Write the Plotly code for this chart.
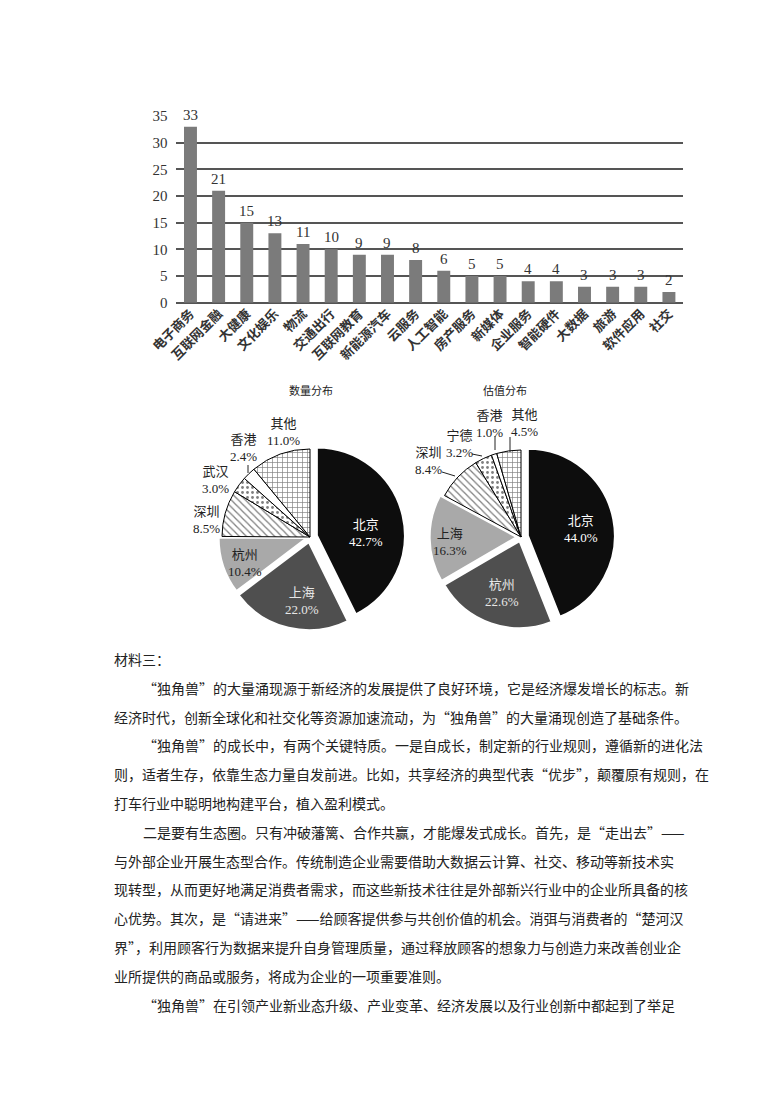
import plotly.graph_objects as go

W, H = 780, 1103

# ---------------- data ----------------
industries = ["电子商务", "互联网金融", "大健康", "文化娱乐", "物流", "交通出行", "互联网教育",
              "新能源汽车", "云服务", "人工智能", "房产服务", "新媒体", "企业服务", "智能硬件",
              "大数据", "旅游", "软件应用", "社交"]
counts = [33, 21, 15, 13, 11, 10, 9, 9, 8, 6, 5, 5, 4, 4, 3, 3, 3, 2]
y_ticks = [0, 5, 10, 15, 20, 25, 30, 35]

qty_title = "数量分布"
qty_cities = ["北京", "上海", "杭州", "深圳", "武汉", "香港", "其他"]
qty_share = [42.7, 22.0, 10.4, 8.5, 3.0, 2.4, 11.0]

val_title = "估值分布"
val_cities = ["北京", "杭州", "上海", "深圳", "宁德", "香港", "其他"]
val_share = [44.0, 22.6, 16.3, 8.4, 3.2, 1.0, 4.5]

body_lines = [
    "材料三：",
    "“独角兽”的大量涌现源于新经济的发展提供了良好环境，它是经济爆发增长的标志。新",
    "经济时代，创新全球化和社交化等资源加速流动，为“独角兽”的大量涌现创造了基础条件。",
    "“独角兽”的成长中，有两个关键特质。一是自成长，制定新的行业规则，遵循新的进化法",
    "则，适者生存，依靠生态力量自发前进。比如，共享经济的典型代表“优步”，颠覆原有规则，在",
    "打车行业中聪明地构建平台，植入盈利模式。",
    "二是要有生态圈。只有冲破藩篱、合作共赢，才能爆发式成长。首先，是“走出去”——",
    "与外部企业开展生态型合作。传统制造企业需要借助大数据云计算、社交、移动等新技术实",
    "现转型，从而更好地满足消费者需求，而这些新技术往往是外部新兴行业中的企业所具备的核",
    "心优势。其次，是“请进来”——给顾客提供参与共创价值的机会。消弭与消费者的“楚河汉",
    "界”，利用顾客行为数据来提升自身管理质量，通过释放顾客的想象力与创造力来改善创业企",
    "业所提供的商品或服务，将成为企业的一项重要准则。",
    "“独角兽”在引领产业新业态升级、产业变革、经济发展以及行业创新中都起到了举足",
]
body_indent = [False, True, False, True, False, False, True, False, False, False, False, False, True]

# ---------------- helpers (pixel -> paper) ----------------
def px(x):
    return x / W

def py(y):
    return 1 - y / H

SERIF = "Liberation Serif, Noto Sans CJK SC"
CJK = "Noto Sans CJK SC"

fig = go.Figure()

# ---------------- bar chart ----------------
fig.add_trace(go.Bar(
    x=industries, y=counts,
    marker=dict(color="#7b7b7b", line=dict(width=0)),
    hoverinfo="skip", showlegend=False,
))

annotations = []
for cat, v in zip(industries, counts):
    annotations.append(dict(text=str(v), x=cat, y=v, xref="x", yref="y",
                            xanchor="center", yanchor="bottom", yshift=2,
                            showarrow=False,
                            font=dict(family=SERIF, size=15, color="#333")))

# ---------------- pies ----------------
def pie_domain(cx, cy, r, pull):
    half = r * (1 + pull)
    return dict(x=[px(cx - half), px(cx + half)], y=[py(cy + half), py(cy - half)])

left_c = (310, 537); left_r = 88; left_pull = [0.08, 0.06, 0.04, 0, 0, 0, 0]
right_c = (521, 537); right_r = 87; right_pull = [0.08, 0.05, 0.05, 0, 0, 0, 0]

pie_marker = dict(
    colors=["#0d0d0d", "#4f4f4f", "#a9a9a9", "white", "white", "white", "white"],
    line=dict(color=["white", "white", "white", "black", "black", "black", "black"],
              width=[2, 2, 2, 1, 1, 1, 1]),
    pattern=dict(shape=["", "", "", "\\", ".", "", "+"], fillmode="overlay",
                 fgcolor="black", size=5, solidity=0.25),
)

fig.add_trace(go.Pie(
    labels=qty_cities, values=qty_share, sort=False, direction="clockwise", rotation=0,
    domain=pie_domain(*left_c, left_r, max(left_pull)), pull=left_pull,
    marker=pie_marker, textinfo="none", hoverinfo="skip", showlegend=False,
))

fig.add_trace(go.Pie(
    labels=val_cities, values=val_share, sort=False, direction="clockwise", rotation=0,
    domain=pie_domain(*right_c, right_r, max(right_pull)), pull=right_pull,
    marker=pie_marker, textinfo="none", hoverinfo="skip", showlegend=False,
))

# pie titles
for t, x in [(qty_title, 311), (val_title, 505)]:
    annotations.append(dict(text=t, x=px(x), y=py(390), xref="paper", yref="paper",
                            xanchor="center", yanchor="middle", showarrow=False,
                            font=dict(family=CJK, size=11, color="#222")))

# pie slice labels (positions in pixels)
left_pos = [(366, 533), (302, 601), (245, 563), (206, 520), (215, 480), (243, 448), (283, 432)]
left_col = ["white", "#e6e6e6", "#222", "#222", "#222", "#222", "#222"]
right_pos = [(581, 529), (502, 593), (450, 542), (428, 461), (459, 444), (489, 424), (524, 423)]
right_col = ["white", "#e6e6e6", "#222", "#222", "#222", "#222", "#222"]

for names, vals, pos, cols in [(qty_cities, qty_share, left_pos, left_col),
                               (val_cities, val_share, right_pos, right_col)]:
    for n, v, (x, y), c in zip(names, vals, pos, cols):
        annotations.append(dict(text=f"{n}<br>{v:.1f}%", x=px(x), y=py(y),
                                xref="paper", yref="paper", xanchor="center",
                                yanchor="middle", align="center", showarrow=False,
                                font=dict(family=SERIF, size=13, color=c)))

# body text
line_y0, line_step = 659, 28.8
for i, (t, ind) in enumerate(zip(body_lines, body_indent)):
    annotations.append(dict(text=t, x=px(141 if ind else 112), y=py(line_y0 + i * line_step),
                            xref="paper", yref="paper", xanchor="left", yanchor="middle",
                            showarrow=False, font=dict(family=CJK, size=14, color="#222")))

# leader lines for small pie labels
leaders = [((248, 465), (248, 473)),
           ((442, 472), (455, 476)),
           ((472, 454), (482, 456)),
           ((495, 436), (495, 450)),
           ((510, 437), (510, 452))]
shapes = [dict(type="line", xref="paper", yref="paper", x0=px(a[0]), y0=py(a[1]),
               x1=px(b[0]), y1=py(b[1]), line=dict(color="#222", width=1))
          for a, b in leaders]

fig.update_layout(
    width=W, height=H, autosize=False,
    margin=dict(l=0, r=0, t=0, b=0, autoexpand=False),
    paper_bgcolor="white", plot_bgcolor="white",
    bargap=0.54,
    xaxis=dict(domain=[px(176.4), px(683)], type="category", tickangle=-45,
               automargin=False,
               showgrid=False, showline=False, zeroline=False, ticks="",
               tickfont=dict(family=SERIF, size=13, color="#333", weight="bold")),
    yaxis=dict(domain=[py(302.7), py(116)], range=[0, 35], tickvals=y_ticks,
               automargin=False,
               showgrid=True, gridcolor="#555", gridwidth=1.5,
               zeroline=True, zerolinecolor="#555", zerolinewidth=1.5,
               showline=False, ticks="", ticklabelstandoff=8,
               tickfont=dict(family=SERIF, size=15, color="#333")),
    annotations=annotations, shapes=shapes,
    hovermode=False,
)

fig.write_html("out.html")
